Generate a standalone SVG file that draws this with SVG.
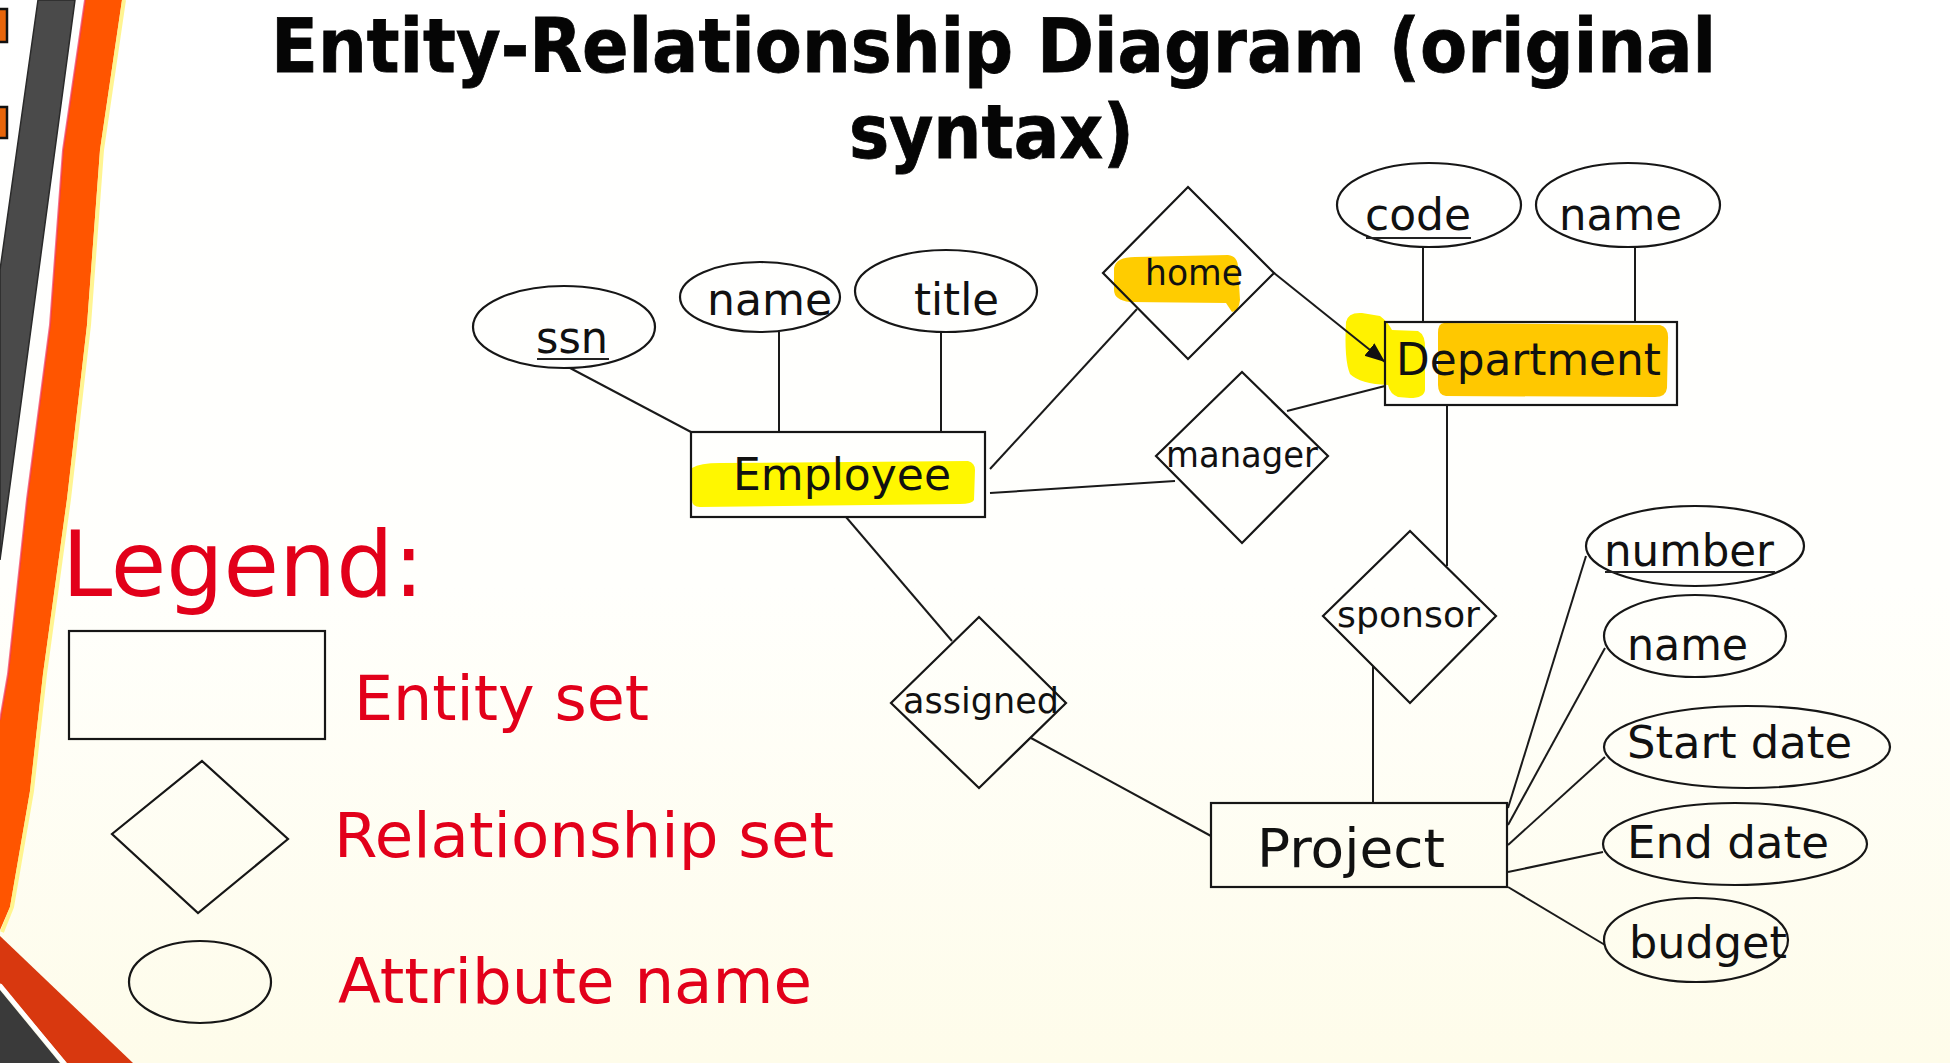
<svg xmlns="http://www.w3.org/2000/svg" width="1950" height="1063" viewBox="0 0 1950 1063">
  <defs>
    <linearGradient id="bg" x1="0" y1="0" x2="0" y2="1">
      <stop offset="0" stop-color="#FFFFFF"/>
      <stop offset="0.55" stop-color="#FFFFFC"/>
      <stop offset="1" stop-color="#FEFCEA"/>
    </linearGradient>
    <marker id="arrow" markerUnits="userSpaceOnUse" markerWidth="22" markerHeight="18" refX="20" refY="9" orient="auto">
      <path d="M0,1 L20,9 L0,17 Z" fill="#111"/>
    </marker>
    <style>
      .shape { fill: none; stroke: #161616; stroke-width: 2.2; }
      .conn { stroke: #1a1a1a; stroke-width: 2; fill: none; }
      .lbl { font-family: "DejaVu Sans", "Liberation Sans", sans-serif; fill: #111; }
      .attr { font-size: 44px; }
      .ent { font-size: 44px; }
      .rel { font-size: 35px; }
      .legend { font-family: "DejaVu Sans", "Liberation Sans", sans-serif; fill: #E2001A; }
      .title { font-family: "DejaVu Sans", "Liberation Sans", sans-serif; font-weight: bold; font-size: 74px; fill: #050505; stroke: #050505; stroke-width: 0.8; }
      .ul { stroke: #222; stroke-width: 2.2; }
    </style>
  </defs>

  <!-- slide background -->
  <rect x="0" y="0" width="1950" height="1063" fill="url(#bg)"/>

  <!-- decorative slide bands on the left -->
  <g id="slide-decor">
    <polygon points="38,0 75,0 0,560 0,270" fill="#4A4A4A" stroke="#2A2A2A" stroke-width="1.5"/>
    <polygon points="85,0 122,0 100,150 87,325 67,499 43,674 30,791 10,907 0,930 0,720 8,674 27,499 50,325 63,150" fill="#FF5500"/>
    <polyline points="85,0 63,150 50,325 27,499 8,674 0,720" fill="none" stroke="#F2385A" stroke-width="2" opacity="0.7"/>
    <polyline points="124,0 102,150 89,325 69,499 45,674 32,791 12,907 2,932" fill="none" stroke="#FFF176" stroke-width="4" opacity="0.8"/>
    <polygon points="0,936 133,1063 67,1063 0,983" fill="#D8380F"/>
    <polygon points="0,990 60,1063 0,1063" fill="#3A3A3A"/>
    <line x1="0" y1="985" x2="64" y2="1063" stroke="#FFFFFF" stroke-width="4"/>
    <rect x="-6" y="9" width="13" height="33" fill="#E8650A" stroke="#111" stroke-width="2.5"/>
    <rect x="-6" y="107" width="13" height="31" fill="#E8650A" stroke="#111" stroke-width="2.5"/>
  </g>

  <!-- title -->
  <g id="title">
    <text class="title" x="271" y="72" textLength="1445" lengthAdjust="spacingAndGlyphs">Entity-Relationship Diagram (original</text>
    <text class="title" x="849" y="158" textLength="285" lengthAdjust="spacingAndGlyphs">syntax)</text>
  </g>

  <!-- marker highlights -->
  <g id="highlights">
    <path d="M692,468 Q700,463 720,463 L968,461 Q975,463 975,470 L974,500 Q972,504 960,504 L700,507 Q692,507 692,500 Z" fill="#FFF700"/>
    <path d="M1114,268 Q1116,257 1135,257 L1228,255 Q1238,256 1238,268 L1240,300 Q1239,311 1232,312 L1226,303 L1130,302 Q1114,300 1114,290 Z" fill="#FFCC00"/>
    <path d="M1346,322 Q1348,312 1362,313 L1380,316 Q1388,322 1392,330 L1418,331 Q1426,335 1425,350 L1425,390 Q1424,398 1410,398 L1398,397 Q1390,394 1388,385 Q1360,384 1350,374 Q1344,360 1346,322 Z" fill="#FFF200"/>
    <path d="M1444,323 L1660,325 Q1669,327 1668,340 L1667,388 Q1666,397 1655,397 L1446,396 Q1438,395 1438,385 L1438,333 Q1438,323 1444,323 Z" fill="#FFC800"/>
  </g>

  <!-- connectors -->
  <g id="connectors">
    <line class="conn" x1="570" y1="368" x2="691" y2="432"/>
    <line class="conn" x1="779" y1="332" x2="779" y2="432"/>
    <line class="conn" x1="941" y1="333" x2="941" y2="432"/>
    <line class="conn" x1="990" y1="469" x2="1137" y2="309"/>
    <line class="conn" x1="990" y1="493" x2="1175" y2="481"/>
    <line class="conn" x1="846" y1="517" x2="952" y2="641"/>
    <line class="conn" x1="1274" y1="273" x2="1385" y2="362" marker-end="url(#arrow)"/>
    <line class="conn" x1="1287" y1="411" x2="1385" y2="386"/>
    <line class="conn" x1="1423" y1="247" x2="1423" y2="322"/>
    <line class="conn" x1="1635" y1="247" x2="1635" y2="322"/>
    <line class="conn" x1="1447" y1="405" x2="1447" y2="566"/>
    <line class="conn" x1="1373" y1="666" x2="1373" y2="803"/>
    <line class="conn" x1="1031" y1="738" x2="1211" y2="836"/>
    <line class="conn" x1="1508" y1="808" x2="1586" y2="556"/>
    <line class="conn" x1="1508" y1="825" x2="1605" y2="648"/>
    <line class="conn" x1="1508" y1="845" x2="1605" y2="757"/>
    <line class="conn" x1="1508" y1="872" x2="1603" y2="852"/>
    <line class="conn" x1="1508" y1="887" x2="1605" y2="945"/>
  </g>

  <!-- Employee entity and its attributes -->
  <g id="employee">
    <rect class="shape" x="691" y="432" width="294" height="85"/>
    <text class="lbl ent" x="733" y="490" textLength="218" lengthAdjust="spacingAndGlyphs">Employee</text>
  </g>
  <g id="employee-ssn">
    <ellipse class="shape" cx="564" cy="327" rx="91" ry="41"/>
    <text class="lbl attr" x="536" y="353" textLength="72" lengthAdjust="spacingAndGlyphs">ssn</text>
    <line class="ul" x1="537" y1="359" x2="609" y2="359"/>
  </g>
  <g id="employee-name">
    <ellipse class="shape" cx="760" cy="297" rx="80" ry="35"/>
    <text class="lbl attr" x="707" y="315" textLength="125" lengthAdjust="spacingAndGlyphs">name</text>
  </g>
  <g id="employee-title">
    <ellipse class="shape" cx="946" cy="291" rx="91" ry="41"/>
    <text class="lbl attr" x="914" y="315" textLength="85" lengthAdjust="spacingAndGlyphs">title</text>
  </g>

  <!-- Department entity and its attributes -->
  <g id="department">
    <rect class="shape" x="1385" y="322" width="292" height="83"/>
    <text class="lbl ent" x="1396" y="375" textLength="265" lengthAdjust="spacingAndGlyphs">Department</text>
  </g>
  <g id="department-code">
    <ellipse class="shape" cx="1429" cy="205" rx="92" ry="42"/>
    <text class="lbl attr" x="1365" y="230" textLength="106" lengthAdjust="spacingAndGlyphs">code</text>
    <line class="ul" x1="1366" y1="238" x2="1471" y2="238"/>
  </g>
  <g id="department-name">
    <ellipse class="shape" cx="1628" cy="205" rx="92" ry="42"/>
    <text class="lbl attr" x="1559" y="230" textLength="123" lengthAdjust="spacingAndGlyphs">name</text>
  </g>

  <!-- Project entity and its attributes -->
  <g id="project">
    <rect class="shape" x="1211" y="803" width="296" height="84"/>
    <text class="lbl" style="font-size:54px" x="1257" y="867" textLength="188" lengthAdjust="spacingAndGlyphs">Project</text>
  </g>
  <g id="project-number">
    <ellipse class="shape" cx="1695" cy="546" rx="109" ry="40"/>
    <text class="lbl attr" x="1604" y="566" textLength="170" lengthAdjust="spacingAndGlyphs">number</text>
    <line class="ul" x1="1605" y1="572" x2="1775" y2="572"/>
  </g>
  <g id="project-name">
    <ellipse class="shape" cx="1695" cy="636" rx="91" ry="41"/>
    <text class="lbl attr" x="1627" y="660" textLength="121" lengthAdjust="spacingAndGlyphs">name</text>
  </g>
  <g id="project-start-date">
    <ellipse class="shape" cx="1747" cy="747" rx="143" ry="41"/>
    <text class="lbl attr" x="1627" y="758" textLength="225" lengthAdjust="spacingAndGlyphs">Start date</text>
  </g>
  <g id="project-end-date">
    <ellipse class="shape" cx="1735" cy="844" rx="132" ry="41"/>
    <text class="lbl attr" x="1627" y="858" textLength="202" lengthAdjust="spacingAndGlyphs">End date</text>
  </g>
  <g id="project-budget">
    <ellipse class="shape" cx="1696" cy="940" rx="92" ry="42"/>
    <text class="lbl attr" x="1629" y="958" textLength="158" lengthAdjust="spacingAndGlyphs">budget</text>
  </g>

  <!-- relationship sets -->
  <g id="rel-home">
    <polygon class="shape" points="1188,187 1274,273 1188,359 1103,273"/>
    <text class="lbl rel" x="1145" y="285" textLength="98" lengthAdjust="spacingAndGlyphs">home</text>
  </g>
  <g id="rel-manager">
    <polygon class="shape" points="1242,372 1328,456 1242,543 1156,456"/>
    <text class="lbl rel" x="1166" y="467" textLength="152" lengthAdjust="spacingAndGlyphs">manager</text>
  </g>
  <g id="rel-sponsor">
    <polygon class="shape" points="1410,531 1496,616 1410,703 1323,616"/>
    <text class="lbl rel" x="1337" y="627" textLength="143" lengthAdjust="spacingAndGlyphs">sponsor</text>
  </g>
  <g id="rel-assigned">
    <polygon class="shape" points="979,617 1066,703 979,788 891,703"/>
    <text class="lbl rel" x="903" y="713" textLength="156" lengthAdjust="spacingAndGlyphs">assigned</text>
  </g>

  <!-- legend -->
  <g id="legend">
    <text class="legend" style="font-size:90px" x="62" y="596" textLength="362" lengthAdjust="spacingAndGlyphs">Legend:</text>
    <g id="legend-entity">
      <rect class="shape" x="69" y="631" width="256" height="108"/>
      <text class="legend" style="font-size:62px" x="354" y="720" textLength="295" lengthAdjust="spacingAndGlyphs">Entity set</text>
    </g>
    <g id="legend-relationship">
      <polygon class="shape" points="202,761 288,839 198,913 112,834"/>
      <text class="legend" style="font-size:62px" x="334" y="857" textLength="500" lengthAdjust="spacingAndGlyphs">Relationship set</text>
    </g>
    <g id="legend-attribute">
      <ellipse class="shape" cx="200" cy="982" rx="71" ry="41"/>
      <text class="legend" style="font-size:62px" x="338" y="1003" textLength="474" lengthAdjust="spacingAndGlyphs">Attribute name</text>
    </g>
  </g>
</svg>
